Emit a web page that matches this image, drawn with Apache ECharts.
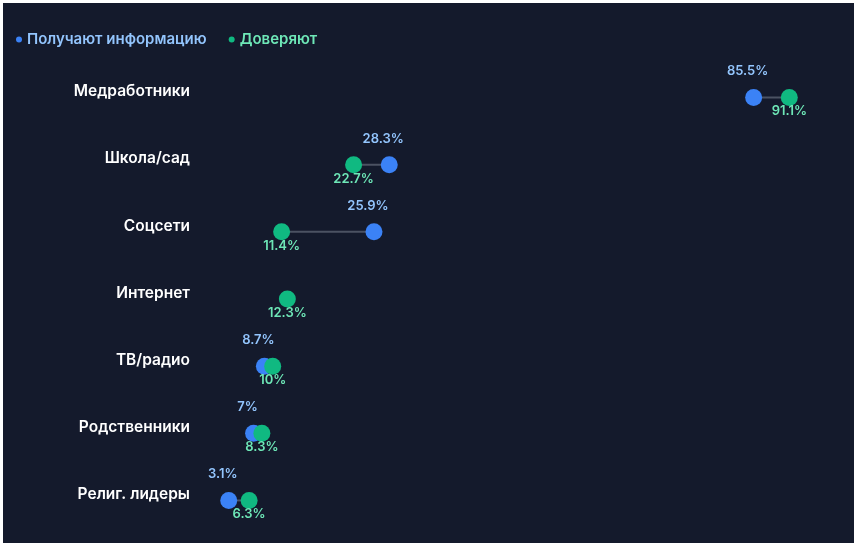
<!DOCTYPE html>
<html><head><meta charset="utf-8">
<script src="https://cdn.jsdelivr.net/npm/echarts@6/dist/echarts.min.js"></script>
<style>html,body{margin:0;background:#fff}#c{position:absolute;left:3px;top:3px;width:851px;height:540px;background:#141a2c}</style>
</head><body><div id="c"></div>
<script>
var categories = ['Медработники', 'Школа/сад', 'Соцсети', 'Интернет', 'ТВ/радио', 'Родственники', 'Религ. лидеры'];
var infoValues = [85.5, 28.3, 25.9, null, 8.7, 7, 3.1];
var trustValues = [91.1, 22.7, 11.4, 12.3, 10, 8.3, 6.3];

var chart = echarts.init(document.getElementById('c'));
var pairs = categories.map(function (c, i) { return [i, infoValues[i], trustValues[i]]; })
  .filter(function (p) { return p[1] != null && p[2] != null; });

chart.setOption({
  backgroundColor: '#141a2c',
  legend: {
    left: 8, top: 24, itemWidth: 6, itemHeight: 6, itemGap: 22,
    textStyle: { fontFamily: 'Inter', fontSize: 15, fontWeight: 600 },
    data: [
      { name: 'Получают информацию', icon: 'circle', textStyle: { color: '#93c5fd' } },
      { name: 'Доверяют', icon: 'circle', textStyle: { color: '#6ee7b7' } }
    ]
  },
  grid: { left: 206, right: 8, top: 55, bottom: 15 },
  xAxis: { type: 'value', min: 0, max: 100, show: false },
  yAxis: {
    type: 'category', data: categories, inverse: true,
    axisLine: { show: false }, axisTick: { show: false },
    axisLabel: { color: '#ffffff', fontFamily: 'Inter', fontSize: 15.5, fontWeight: 600, margin: 19, verticalAlign: 'middle', padding: [0, 0, 10, 0] }
  },
  series: [
    {
      type: 'custom', silent: true, z: 1,
      data: pairs,
      renderItem: function (params, api) {
        var a = api.coord([api.value(1), api.value(0)]);
        var b = api.coord([api.value(2), api.value(0)]);
        return { type: 'line', shape: { x1: a[0], y1: a[1] + 6, x2: b[0], y2: b[1] + 6 },
          style: { stroke: '#4b5262', lineWidth: 2 } };
      },
      encode: { x: [1, 2], y: 0 }
    },
    {
      name: 'Получают информацию', type: 'scatter', symbolSize: 17, symbolOffset: [0, 6], z: 2,
      itemStyle: { color: '#3b82f6', opacity: 1 },
      data: infoValues.map(function (v, i) { return v == null ? null : [v, i]; }),
      label: { show: true, position: 'top', offset: [-6, -6], color: '#93c5fd', fontFamily: 'Inter', fontSize: 13, fontWeight: 600,
        formatter: function (p) { return p.value[0] + '%'; } }
    },
    {
      name: 'Доверяют', type: 'scatter', symbolSize: 17, symbolOffset: [0, 6], z: 3,
      itemStyle: { color: '#10b981', opacity: 1 },
      data: trustValues.map(function (v, i) { return [v, i]; }),
      label: { show: true, position: 'bottom', offset: [0, -6], color: '#6ee7b7', fontFamily: 'Inter', fontSize: 13, fontWeight: 600,
        formatter: function (p) { return p.value[0] + '%'; } }
    }
  ]
});
</script></body></html>
